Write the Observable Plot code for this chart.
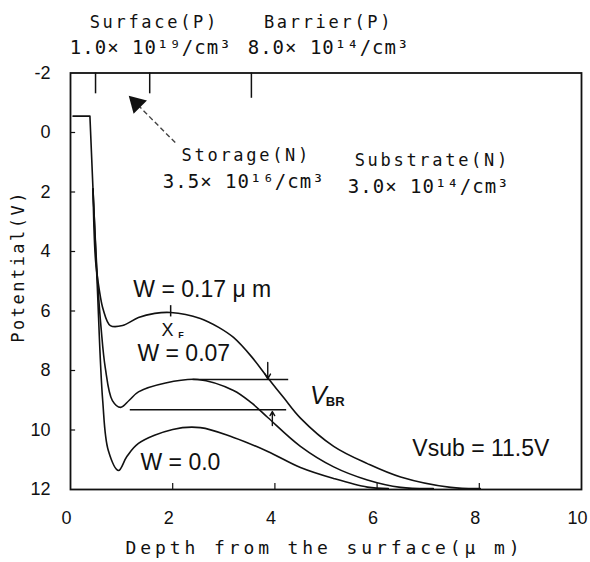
<!DOCTYPE html>
<html><head><meta charset="utf-8">
<script src="https://cdn.jsdelivr.net/npm/d3@7"></script>
<script src="https://cdn.jsdelivr.net/npm/@observablehq/plot@0.6"></script>
<style>body{margin:0;background:#fff}#chart{width:590px;height:562px}</style>
</head><body><div id="chart"></div>
<script>
// ---- data (depth in µm, potential in V) ----
const stepDepth = [0.05, 0.38, 0.44];
const stepPot   = [-0.55, -0.55, 1.9];

const w017Depth = [0.44, 0.49, 0.56, 0.64, 0.78, 1.02, 1.33, 1.65, 1.96, 2.54, 2.90, 3.19, 3.55, 3.86, 4.17, 4.50, 5.15, 5.81, 6.46, 7.44, 8.02];
const w017Pot   = [1.9, 4.3, 5.25, 5.95, 6.49, 6.49, 6.22, 6.08, 6.05, 6.25, 6.55, 6.89, 7.55, 8.24, 8.91, 9.60, 10.55, 11.13, 11.58, 11.93, 11.97];

const w007Depth = [0.44, 0.53, 0.60, 0.68, 0.82, 0.98, 1.15, 1.33, 1.86, 2.49, 3.19, 3.55, 3.86, 4.50, 5.15, 5.81, 6.46, 7.10];
const w007Pot   = [1.9, 5.0, 6.6, 7.9, 9.01, 9.24, 9.0, 8.72, 8.42, 8.30, 8.67, 9.10, 9.58, 10.55, 11.24, 11.68, 11.93, 11.97];

const w000Depth = [0.44, 0.52, 0.63, 0.74, 0.94, 1.10, 1.33, 2.00, 2.54, 3.19, 3.86, 4.50, 5.15, 5.81, 6.22];
const w000Pot   = [1.9, 5.0, 9.01, 10.69, 11.36, 10.9, 10.45, 9.98, 9.92, 10.25, 10.72, 11.26, 11.63, 11.92, 11.97];

const xTicks = [0, 2, 4, 6, 8, 10];
const yTicks = [-2, 0, 2, 4, 6, 8, 10, 12];

// region boundaries (top marks)
const boundaryDepth = [0.49, 1.55, 3.54];
const boundaryEnd   = [-1.3, -1.3, -1.15];

// annotation texts
const regionNames  = ["Surface(P)", "Barrier(P)", "Storage(N)", "Substrate(N)"];
const regionDoping = ["1.0× 10¹⁹/cm³", "8.0× 10¹⁴/cm³", "3.5× 10¹⁶/cm³", "3.0× 10¹⁴/cm³"];
const regionNameX  = [1.64, 5.05, 3.44, 7.08];
const regionNameY  = [-3.70, -3.70, 0.77, 0.94];
const regionDopX   = [1.57, 5.05, 3.39, 7.01];
const regionDopY   = [-2.86, -2.86, 1.65, 1.82];

const curveLabels = ["W = 0.17 μ m", "W = 0.07", "W = 0.0", "Vsub = 11.5V"];
const curveLabelX = [1.23, 1.31, 1.37, 6.69];
const curveLabelY = [5.28, 7.43, 11.09, 10.62];

// V_BR marker lines and arrows
const vbrLineY  = [8.30, 9.32];
const vbrLineX1 = [2.40, 1.17];
const vbrLineX2 = [4.27, 4.23];
const vbrArrowX = [3.86, 3.95];
const vbrArrowFrom = [7.73, 9.85];
const vbrArrowTo   = [8.28, 9.38];

// ---- build tables ----
const lines = [
  ...w017Depth.map((d, i) => ({w: "0.17", d, p: w017Pot[i]})),
  ...w007Depth.map((d, i) => ({w: "0.07", d, p: w007Pot[i]})),
  ...w000Depth.map((d, i) => ({w: "0.0", d, p: w000Pot[i]}))
];
const step = stepDepth.map((d, i) => ({d, p: stepPot[i]}));
const names = regionNames.map((t, i) => ({t, x: regionNameX[i], y: regionNameY[i]}));
const dops = regionDoping.map((t, i) => ({t, x: regionDopX[i], y: regionDopY[i]}));
const clabels = curveLabels.map((t, i) => ({t, x: curveLabelX[i], y: curveLabelY[i]}));
const bounds = boundaryDepth.map((x, i) => ({x, y2: boundaryEnd[i]}));
const vbrLines = vbrLineY.map((y, i) => ({y, x1: vbrLineX1[i], x2: vbrLineX2[i]}));
const vbrArrows = vbrArrowX.map((x, i) => ({x, y1: vbrArrowFrom[i], y2: vbrArrowTo[i]}));

const ink = "#111";
const mono = "DejaVu Sans Mono";
const sans = "Liberation Sans";

const chart = Plot.plot({
  width: 590, height: 562,
  marginLeft: 70, marginRight: 9, marginTop: 72.5, marginBottom: 73,
  x: {domain: [0, 10]},
  y: {domain: [-2, 12], reverse: true},
  style: {fontFamily: sans, color: ink, background: "#fff"},
  marks: [
    Plot.frame({stroke: ink, strokeWidth: 1.8}),
    Plot.axisX({ticks: xTicks, tickSize: 0, tickPadding: 22, dx: -4, fontSize: 18, label: null, tickFormat: d => String(d)}),
    Plot.axisY({ticks: yTicks, tickSize: 0, tickPadding: 20, fontSize: 18, label: null, tickFormat: d => d < 0 ? "-" + (-d) : String(d)}),
    Plot.ruleY(yTicks.filter(v => v > -2 && v < 12), {x1: 0, x2: 0.1, stroke: ink, strokeWidth: 1.2}),
    Plot.ruleX(xTicks.filter(v => v > 0 && v < 10), {y1: 12, y2: 11.8, stroke: ink, strokeWidth: 1.2}),
    Plot.ruleX(bounds, {x: "x", y1: -2, y2: "y2", stroke: ink, strokeWidth: 1.5}),
    Plot.line(step, {x: "d", y: "p", stroke: ink, strokeWidth: 1.6}),
    Plot.line(lines, {x: "d", y: "p", z: "w", curve: "catmull-rom", stroke: ink, strokeWidth: 1.6}),
    // X_F marker
    Plot.ruleX([{x: 1.96, y1: 5.82, y2: 6.2}], {x: "x", y1: "y1", y2: "y2", stroke: ink, strokeWidth: 1.5}),
    // V_BR lines & arrows
    Plot.ruleY(vbrLines, {y: "y", x1: "x1", x2: "x2", stroke: ink, strokeWidth: 1.6}),
    Plot.arrow(vbrArrows, {x: "x", y1: "y1", y2: "y2", headLength: 9, stroke: ink, strokeWidth: 1.4}),
    // storage arrow
    Plot.link([{x1: 2.05, y1: 0.34, x2: 1.35, y2: -0.87}], {x1: "x1", y1: "y1", x2: "x2", y2: "y2", stroke: "#444", strokeWidth: 1.4, strokeDasharray: "5,3"}),
    Plot.dot([{x: 1.29, y: -0.98}], {x: "x", y: "y", symbol: "triangle", r: 7, fill: ink, stroke: null, rotate: -45}),
    // texts
    Plot.text(names, {x: "x", y: "y", text: "t", fontFamily: mono, fontSize: 17, fill: ink}),
    Plot.text(dops, {x: "x", y: "y", text: "t", fontFamily: mono, fontSize: 19, fill: ink}),
    Plot.text(clabels, {x: "x", y: "y", text: "t", textAnchor: "start", fontFamily: sans, fontSize: 23, fill: ink}),
    Plot.text([{t: "X", x: 1.90, y: 6.66}], {x: "x", y: "y", text: "t", fontFamily: sans, fontSize: 18, fill: ink}),
    Plot.text([{t: "F", x: 2.16, y: 6.80}], {x: "x", y: "y", text: "t", fontFamily: sans, fontSize: 9, fontWeight: "bold", fill: ink}),
    Plot.text([{t: "V", x: 4.85, y: 8.86}], {x: "x", y: "y", text: "t", fontFamily: sans, fontStyle: "italic", fontSize: 25, fill: ink}),
    Plot.text([{t: "BR", x: 5.18, y: 9.05}], {x: "x", y: "y", text: "t", fontFamily: sans, fontWeight: "bold", fontSize: 13, fill: ink}),
    Plot.text([{t: "Potential(V)", x: -1.02, y: 4.5}], {x: "x", y: "y", text: "t", rotate: -90, fontFamily: mono, fontSize: 17, fill: ink}),
    Plot.text([{t: "Depth from the surface(μ m)", x: 4.97, y: 13.98}], {x: "x", y: "y", text: "t", fontFamily: mono, fontSize: 18, fill: ink})
  ]
});
document.getElementById("chart").appendChild(chart);

// letter spacing for the typewriter-style labels
const spacing = new Map([
  ...regionNames.map(t => [t, 2.7]),
  ...regionDoping.map(t => [t, 1.0]),
  ["Potential(V)", 2.5],
  ["Depth from the surface(μ m)", 3.9]
]);
d3.select(chart).selectAll("text").each(function() {
  const s = spacing.get(this.textContent);
  if (s != null) this.setAttribute("letter-spacing", s);
});
</script>
</body></html>
